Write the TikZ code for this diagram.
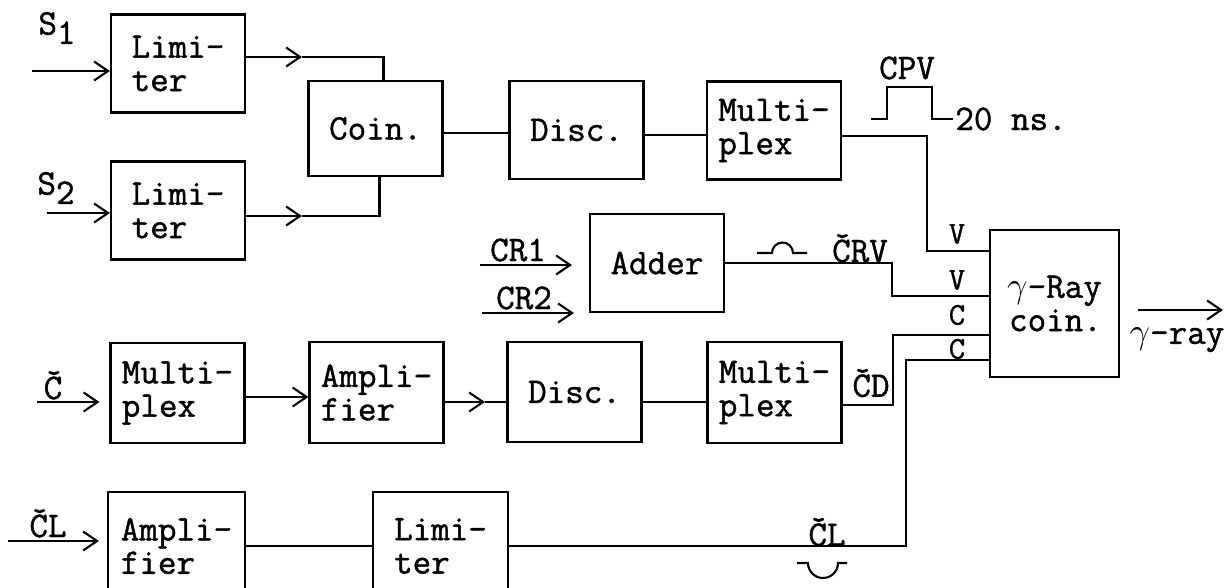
\documentclass[tikz,border=0pt]{standalone}
\usepackage{fontspec}
\setmonofont{Latin Modern Mono}[FakeBold=1.2]
\usetikzlibrary{arrows.meta}
\tikzset{
	blk/.style={draw, line width=1.2pt, minimum width=2.68cm, minimum height=1.96cm, align=left, font=\ttfamily\fontsize{20.5}{19}\selectfont},
	wire/.style={line width=1.2pt},
	arr/.style={line width=1.2pt, -{Straight Barb[length=2.8mm,width=3.8mm]}},
	lbl/.style={font=\ttfamily\fontsize{20.5}{19}\selectfont, inner sep=0pt},
	pin/.style={font=\ttfamily\fontsize{18}{18}\selectfont, inner sep=0pt}
}
\begin{document}
\begin{tikzpicture}[x=0.02cm,y=-0.02cm]
	\useasboundingbox (0,0) rectangle (1225,588);
	\clip (0,0) rectangle (1225,588);
	\node[blk] (lim1) at (178,63.5) {Limi-\\ter};
	\node[blk] (lim2) at (178,210.5) {Limi-\\ter};
	\node[blk,minimum height=1.9cm] (coin) at (375.5,128.5) {Coin.};
	\node[blk] (disc1) at (576.5,130) {Disc.};
	\node[blk] (mux1) at (774,130.5) {Multi-\\plex};
	\node[blk] (adder) at (657,263) {Adder};
	\node[blk,minimum width=2.58cm,minimum height=2.94cm,align=right] (gray) at (1054.5,303.5) {$\gamma$-Ray\\coin.};
	\node[blk,minimum height=2cm] (mux2) at (177.5,393) {Multi-\\plex};
	\node[blk,minimum height=2.02cm] (amp2) at (376.5,392.5) {Ampli-\\fier};
	\node[blk,minimum height=2cm] (disc2) at (574.5,392) {Disc.};
	\node[blk,minimum height=2.02cm] (mux3) at (774.5,392.5) {Multi-\\plex};
	\node[blk,minimum width=2.74cm,minimum height=2.16cm] (amp3) at (176.5,546) {Ampli-\\fier};
	\node[blk,minimum width=2.7cm,minimum height=2.16cm] (lim3) at (440.5,546) {Limi-\\ter};

	\coordinate (s1) at (32,71);
	\coordinate (s2) at (47,213);
	\draw[arr] (s1) -- (s1 -| lim1.west);
	\draw[arr] (s2) -- (s2 -| lim2.west);
	\node[lbl] (s1l) at (57,28) {S\raisebox{-0.6ex}{1}};
	\node[lbl] (s2l) at (56,188) {S\raisebox{-0.6ex}{2}};
	\coordinate (a1) at (302,57);
	\coordinate (a2) at (302,216);
	\draw[arr] (lim1.east |- a1) -- (a1);
	\draw[wire] (a1) -| ([xshift=0.16cm]coin.north);
	\draw[arr] (lim2.east |- a2) -- (a2);
	\draw[wire] (a2) -| ([xshift=0.08cm]coin.south);
	\draw[wire] ([yshift=-0.09cm]coin.east) -- ([yshift=-0.09cm]coin.east -| disc1.west);
	\draw[wire] ([yshift=-0.1cm]disc1.east) -- ([yshift=-0.1cm]disc1.east -| mux1.west);
	\coordinate (v1) at (927,251);
	\draw[wire] ([yshift=-0.11cm]mux1.east) -| (v1) -- (v1 -| gray.west);
	\draw[wire] (871,119) -- (887,119) -- (887,87) -- (932,87) -- (932,119) -- (953,119);
	\node[lbl] (cpv) at (907,68) {CPV};
	\node[lbl,anchor=west] (ns) at (955,119) {20 ns.};

	\coordinate (cr1) at (480,265);
	\coordinate (cr2) at (482,313);
	\draw[arr,shorten >=0.34cm] (cr1) -- (cr1 -| adder.west);
	\draw[arr,shorten >=0.3cm] (cr2) -- (cr2 -| adder.west);
	\node[lbl,anchor=base] (cr1l) at (518,261) {CR1};
	\node[lbl,anchor=base] (cr2l) at (524,309) {CR2};
	\coordinate (v2) at (892,296);
	\draw[wire] (adder.east) -| (v2) -- (v2 -| gray.west);
	\draw[wire] (757,253) -- (772,253) arc[start angle=180,end angle=0,radius=0.21cm] -- (807,253);
	\node[lbl,anchor=base] (crv) at (860,262) {ČRV};
	\node[pin] (iv1) at (957,234) {V};
	\node[pin] (iv2) at (957,280) {V};
	\node[pin] (ic1) at (957,315) {C};
	\node[pin] (ic2) at (957,349) {C};

	\coordinate (c0) at (37,402);
	\draw[arr,shorten >=0.2cm] (c0) -- (c0 -| mux2.west);
	\node[lbl,anchor=base] (cl) at (53,399) {Č};
	\draw[arr] ([yshift=-0.08cm]mux2.east) -- ([yshift=-0.08cm]mux2.east -| amp2.west);
	\coordinate (m2) at (485,402);
	\draw[arr] (amp2.east |- m2) -- (m2);
	\draw[wire] (m2) -- (m2 -| disc2.west);
	\draw[wire] ([yshift=-0.2cm]disc2.east) -- ([yshift=-0.2cm]disc2.east -| mux3.west);
	\coordinate (c1) at (893,335);
	\draw[wire] ([yshift=-0.25cm]mux3.east) -| (c1) -- (c1 -| gray.west);
	\node[lbl] (cd) at (871,383) {ČD};

	\coordinate (l0) at (8,541);
	\draw[arr,shorten >=0.16cm] (l0) -- (l0 -| amp3.west);
	\node[lbl,anchor=base] (cll) at (48,537) {ČL};
	\draw[wire] (amp3.east) -- (lim3.west);
	\coordinate (c2) at (906,360);
	\draw[wire] (lim3.east) -| (c2) -- (c2 -| gray.west);
	\node[lbl] (cl2) at (827,532) {ČL};
	\draw[wire] (797,563) -- (808,563) arc[start angle=180,end angle=360,radius=0.3cm] -- (847,563);

	\coordinate (g1) at (1138,310);
	\coordinate (g2) at (1223,310);
	\draw[arr] (g1) -- (g2);
	\node[lbl] (gl) at (1177,340) {$\gamma$-ray};
\end{tikzpicture}
\end{document}
